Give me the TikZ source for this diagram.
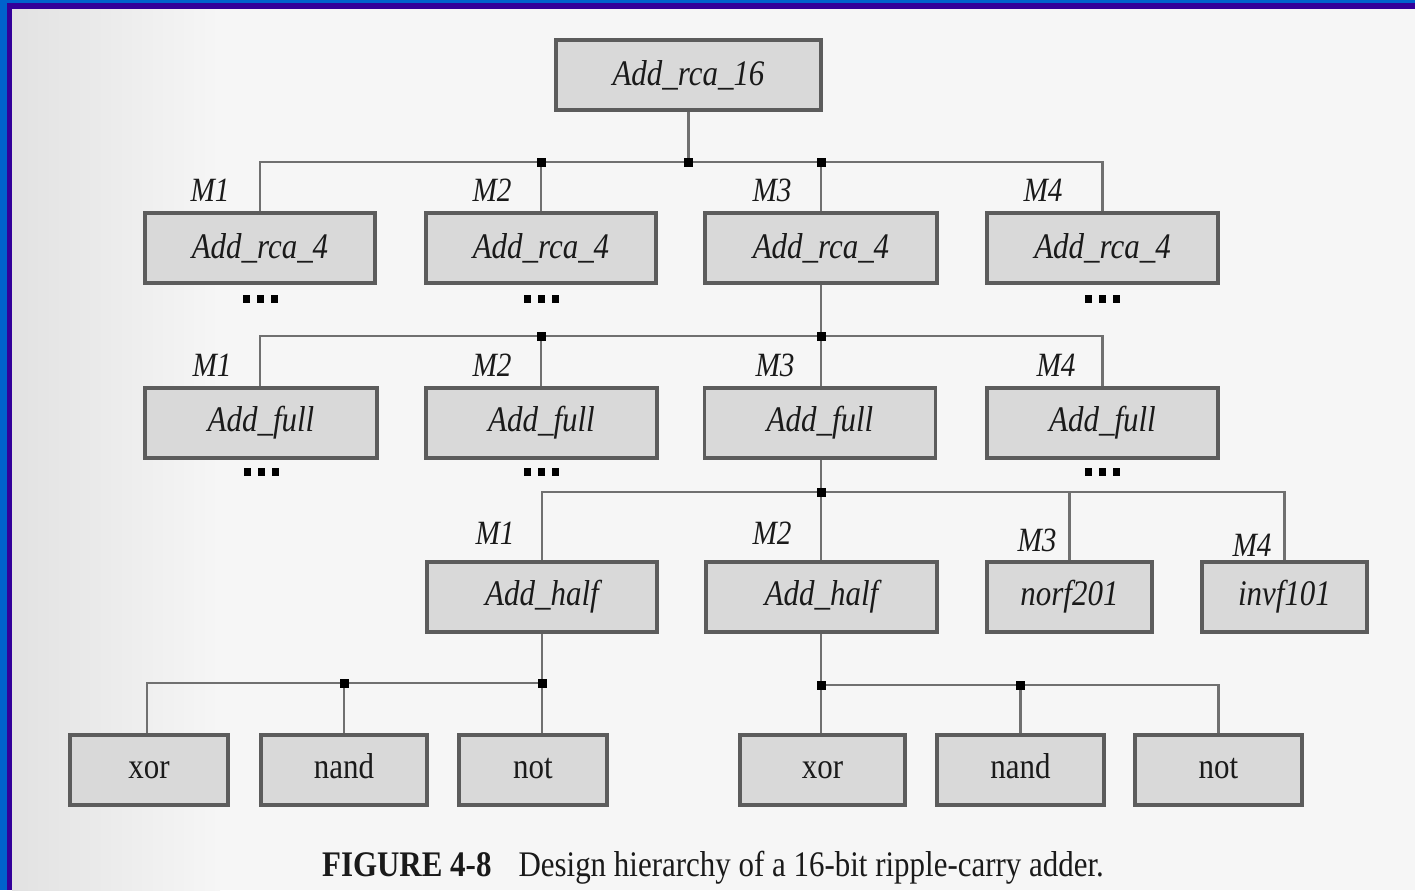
\documentclass[tikz,border=0pt]{standalone}
\usepackage{fontspec}
\setmainfont{Liberation Serif}
\newfontfamily\cond[FakeStretch=0.86]{Liberation Serif}
\usetikzlibrary{calc}
\definecolor{bgc}{HTML}{F6F6F6}
\definecolor{bgl}{HTML}{E2E2E2}
\definecolor{boxfill}{HTML}{D9D9D9}
\definecolor{boxline}{HTML}{5C5C5C}
\definecolor{wire}{HTML}{707070}
\definecolor{txt}{HTML}{1A1A1A}
\definecolor{blueb}{HTML}{0062CC}
\definecolor{purpb}{HTML}{330099}
\begin{document}
\begin{tikzpicture}[x=0.5pt,y=-0.5pt,
  mod/.style={draw=boxline, line width=1.6pt, fill=boxfill, minimum height=35pt, inner sep=0pt,
    font=\cond\fontsize{18}{18}\selectfont\itshape, text=txt},
  gate/.style={mod, font=\cond\fontsize{18}{18}\selectfont, text height=8pt, text depth=0pt},
  lbl/.style={font=\cond\fontsize{17}{17}\selectfont\itshape, text=txt, inner sep=0pt},
  wireline/.style={draw=wire, line width=1.2pt},
  junc/.style={fill=black, minimum size=4.5pt, inner sep=0pt}]
\useasboundingbox (0,0) rectangle (1415,890);
% background and border
\fill[bgc] (0,0) rectangle (1415,890);
\shade[left color=bgl, right color=bgc] (12,0) rectangle (220,890);
\fill[blueb] (0,0) rectangle (1415,3);
\fill[blueb] (0,0) rectangle (7,890);
\fill[purpb] (7,3) rectangle (1415,9);
\fill[purpb] (7,3) rectangle (12,890);

% level 0
\node[mod, minimum width=132.5pt] (top) at (688.5,75) {Add\_rca\_16};
% level 1
\node[mod, minimum width=115pt] (r1a) at (260,248) {Add\_rca\_4};
\node[mod, minimum width=115pt] (r1b) at (541,248) {Add\_rca\_4};
\node[mod, minimum width=116pt] (r1c) at (821,248) {Add\_rca\_4};
\node[mod, minimum width=115.5pt] (r1d) at (1102.5,248) {Add\_rca\_4};
% level 2
\node[mod, minimum width=116pt] (r2a) at (261,423) {Add\_full};
\node[mod, minimum width=115.5pt] (r2b) at (541.5,423) {Add\_full};
\node[mod, minimum width=115.5pt] (r2c) at (820,423) {Add\_full};
\node[mod, minimum width=115.5pt] (r2d) at (1102.5,423) {Add\_full};
% level 3
\node[mod, minimum width=115pt] (r3a) at (542,597) {Add\_half};
\node[mod, minimum width=115.5pt] (r3b) at (821.5,597) {Add\_half};
\node[mod, minimum width=82.5pt] (r3c) at (1069.5,597) {norf201};
\node[mod, minimum width=82.5pt] (r3d) at (1284.5,597) {invf101};
% level 4
\node[gate, minimum width=79pt] (xa) at (149,770) {xor};
\node[gate, minimum width=83pt] (na) at (344,770) {nand};
\node[gate, minimum width=74pt] (ta) at (533,770) {not};
\node[gate, minimum width=82.5pt] (xb) at (822.5,770) {xor};
\node[gate, minimum width=83.5pt] (nb) at (1020.5,770) {nand};
\node[gate, minimum width=83.5pt] (tb) at (1218.5,770) {not};

% junction coordinates
\coordinate (j0) at (688,162);
\coordinate (j1) at (821,336);
\coordinate (j2) at (821,492);
\coordinate (j3) at (541,683);
\coordinate (j4) at (821,685);
\coordinate (cx) at (147,683);

% wires level 0 -> 1
\draw[wireline] (top.south) -- (top.south |- j0);
\draw[wireline] (r1a.north) -- (r1a.north |- j0) -- (r1d.north |- j0) -- (r1d.north);
\draw[wireline] (r1b.north) -- (r1b.north |- j0);
\draw[wireline] (r1c.north) -- (r1c.north |- j0);
% level 1 -> 2
\draw[wireline] (r1c.south) -- (j1);
\draw[wireline] (r2a.north -| r1a.north) -- (r1a.north |- j1) -- (r1d.north |- j1) -- (r2d.north -| r1d.north);
\draw[wireline] (r2b.north -| r1b.north) -- (r1b.north |- j1);
\draw[wireline] (r2c.north -| j1) -- (j1);
% level 2 -> 3
\draw[wireline] (r2c.south -| j1) -- (j2);
\draw[wireline] (r3a.north) -- (r3a.north |- j2) -- (r3d.north |- j2) -- (r3d.north);
\draw[wireline] (r3b.north -| j2) -- (j2);
\draw[wireline] (r3c.north) -- (r3c.north |- j2);
% level 3 -> 4 (left)
\draw[wireline] (r3a.south) -- (r3a.south |- j3);
\draw[wireline] (xa.north -| cx) -- (cx) -- (r3a.south |- j3) -- (ta.north -| r3a.south);
\draw[wireline] (na.north) -- (na.north |- j3);
% level 3 -> 4 (right)
\draw[wireline] (r3b.south -| j4) -- (j4);
\draw[wireline] (xb.north -| j4) -- (j4) -- (tb.north |- j4) -- (tb.north);
\draw[wireline] (nb.north) -- (nb.north |- j4);

% junction dots
\node[junc] (d01) at (r1b.north |- j0) {};
\node[junc] (d02) at (j0) {};
\node[junc] (d03) at (r1c.north |- j0) {};
\node[junc] (d11) at (r1b.north |- j1) {};
\node[junc] (d12) at (j1) {};
\node[junc] (d21) at (j2) {};
\node[junc] (d31) at (na.north |- j3) {};
\node[junc] (d32) at (r3a.south |- j3) {};
\node[junc] (d41) at (j4) {};
\node[junc] (d42) at (nb.north |- j4) {};

% instance labels
\node[lbl] (l1a) at (210,190) {M1};
\node[lbl] (l1b) at (492,190) {M2};
\node[lbl] (l1c) at (772,190) {M3};
\node[lbl] (l1d) at (1043,190) {M4};
\node[lbl] (l2a) at (212,365) {M1};
\node[lbl] (l2b) at (492,365) {M2};
\node[lbl] (l2c) at (775,365) {M3};
\node[lbl] (l2d) at (1056,365) {M4};
\node[lbl] (l3a) at (495,533) {M1};
\node[lbl] (l3b) at (772,533) {M2};
\node[lbl] (l3c) at (1037,540) {M3};
\node[lbl] (l3d) at (1252,545) {M4};

% omitted-instance marks
\foreach \n/\x/\y in {m1a/260/299, m1b/541/299, m1d/1102/299, m2a/261/472, m2b/541/472, m2d/1102/472}{
  \node[inner sep=0pt] (\n) at (\x,\y) {};
  \foreach \dx in {-14,0,14}{ \fill[black] ($(\n)+(\dx,0)$) ++(-3.5,-4) rectangle ++(7,8); }
}

% caption
\node[font=\cond\fontsize{18}{18}\selectfont, text=txt, inner sep=0pt] (cap) at (713,868)
  {\textbf{FIGURE 4-8}\hspace{0.75em}Design hierarchy of a 16-bit ripple-carry adder.};
\end{tikzpicture}
\end{document}
